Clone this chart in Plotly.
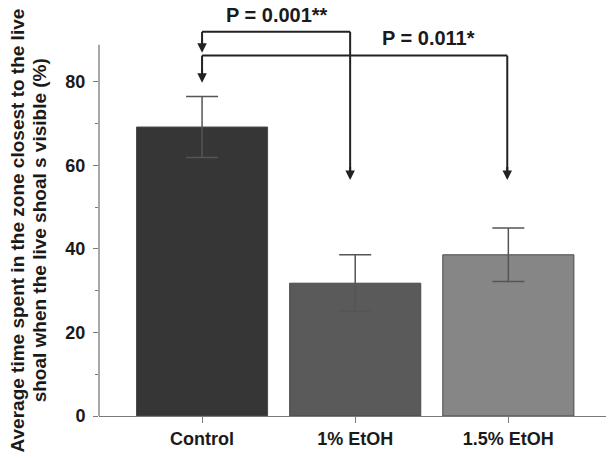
import plotly.graph_objects as go

# ---- data ----
categories = ["Control", "1% EtOH", "1.5% EtOH"]
means = [69.2, 31.8, 38.6]
sem = [7.3, 6.8, 6.4]
bar_colors = ["#363636", "#5a5a5a", "#868686"]
y_tickvals = [0, 20, 40, 60, 80]
y_minor_tickvals = [10, 30, 50, 70]
y_title_lines = ["Average time spent in the zone closest to the live",
                 "shoal when the live shoal s visible (%)"]
y_title_x = [-0.159, -0.1165]     # paper positions of the two title lines

# significance brackets (data coordinates)
p_labels = ["P = 0.001**", "P = 0.011*"]
p_label_x = [0.49, 1.477]
p_label_y = [96.0, 90.5]
bracket_y = [92.0, 86.3]          # horizontal levels
bracket_from_x = [0, 0]           # control
bracket_to_x = [0.967, 1.993]     # treatment arrows
control_tip_y = [87.0, 79.8]
treat_tip_y = [56.5, 56.5]
axis_top = 88.9

FONT = "Arial, Liberation Sans, sans-serif"
LINE = "#222222"
AX = "#7a7a7a"

fig = go.Figure()
fig.add_trace(go.Bar(
    x=categories, y=means,
    marker=dict(color=bar_colors, line=dict(color="#4a4a4a", width=1)),
    error_y=dict(type="data", array=sem, color="#555555", thickness=1.5, width=16),
    width=0.856,
))

shapes = []
annotations = []
# y axis line as shape (ends at axis_top)
shapes.append(dict(type="line", xref="paper", yref="y", x0=0, x1=0, y0=0, y1=axis_top,
                   line=dict(color=AX, width=1.3)))
for i in range(2):
    by = bracket_y[i]
    x0 = bracket_from_x[i]
    x1 = bracket_to_x[i]
    shapes.append(dict(type="line", xref="x", yref="y", x0=x0, x1=x1, y0=by, y1=by,
                       line=dict(color=LINE, width=2)))
    shapes.append(dict(type="line", xref="x", yref="y", x0=x0, x1=x0, y0=by, y1=control_tip_y[i] + 1.5,
                       line=dict(color=LINE, width=2)))
    shapes.append(dict(type="line", xref="x", yref="y", x0=x1, x1=x1, y0=by, y1=treat_tip_y[i] + 1.5,
                       line=dict(color=LINE, width=2)))
    for (tx, ty) in [(x0, control_tip_y[i]), (x1, treat_tip_y[i])]:
        annotations.append(dict(x=tx, y=ty, ax=tx, ay=ty + 3.5, xref="x", yref="y",
                                axref="x", ayref="y", text="", showarrow=True,
                                arrowhead=2, arrowsize=0.95, arrowwidth=2, arrowcolor=LINE))
    annotations.append(dict(x=p_label_x[i], y=p_label_y[i], xref="x", yref="y",
                            text="<b>%s</b>" % p_labels[i], showarrow=False,
                            font=dict(family=FONT, size=20, color="#1a1a1a"),
                            xanchor="center", yanchor="middle"))

for tx, line in zip(y_title_x, y_title_lines):
    annotations.append(dict(x=tx, y=0.5 * axis_top, xref="paper", yref="y",
                            text="<b>%s</b>" % line, showarrow=False, textangle=-90,
                            font=dict(family=FONT, size=19, color="#1a1a1a"),
                            xanchor="center", yanchor="middle"))

fig.update_layout(
    width=614, height=459,
    margin=dict(l=91, r=8, t=0, b=51),
    paper_bgcolor="white", plot_bgcolor="white",
    showlegend=False,
    bargap=0.144,
    shapes=shapes, annotations=annotations,
    font=dict(family=FONT, color="#1a1a1a"),
)
fig.update_xaxes(
    type="category", range=[-0.673, 2.69],
    showline=True, linecolor=AX, linewidth=1.3,
    ticks="outside", ticklen=6, tickcolor=AX, tickwidth=1.3,
    tickfont=dict(family=FONT, size=18, color="#1a1a1a", weight="bold"),
    showgrid=False, zeroline=False,
)
fig.update_yaxes(
    range=[0, 97.7], showline=False, showgrid=False, zeroline=False,
    tickvals=y_tickvals, ticks="outside", ticklen=5, tickcolor=AX, tickwidth=1.3,
    tickfont=dict(family=FONT, size=18, color="#1a1a1a", weight="bold"),
    minor=dict(tickvals=y_minor_tickvals, ticks="outside", ticklen=3, tickcolor=AX, tickwidth=1.3),
    ticklabelstandoff=4,
)
fig.write_html("out.html")
